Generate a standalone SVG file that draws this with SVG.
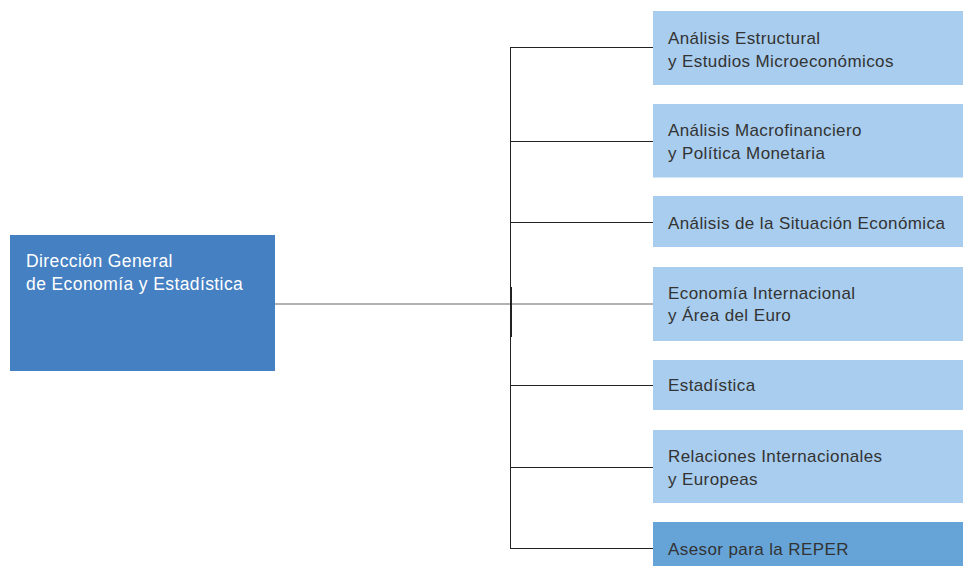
<svg xmlns="http://www.w3.org/2000/svg" width="963" height="566" viewBox="0 0 963 566">
<style>
.t{font-family:"Liberation Sans",Arial,sans-serif;font-size:17px;letter-spacing:0.4px;fill:#333333}
.w{fill:#ffffff;font-size:17.5px}
.sub{fill:#a8cdee}
.rep{fill:#66a4d8}
.main{fill:#4580c2}
.br{stroke:#222222;stroke-width:1;fill:none}
</style>
<rect width="963" height="566" fill="#ffffff"/>
<g id="connectors">
<line class="br" x1="510.5" y1="47.5" x2="510.5" y2="548.5"/>
<line x1="275" y1="304" x2="653" y2="304" stroke="#666666" stroke-width="1.2"/>
<line x1="511" y1="287" x2="511" y2="337" stroke="#222222" stroke-width="2"/>
<line class="br" x1="510" y1="47.5" x2="653" y2="47.5"/>
<line class="br" x1="510" y1="141.5" x2="653" y2="141.5"/>
<line class="br" x1="510" y1="222.5" x2="653" y2="222.5"/>
<line class="br" x1="510" y1="385.5" x2="653" y2="385.5"/>
<line class="br" x1="510" y1="467.5" x2="653" y2="467.5"/>
<line class="br" x1="510" y1="548.5" x2="653" y2="548.5"/>
</g>
<g id="dg">
<rect class="main" x="10" y="235" width="265" height="136"/>
<text class="t w" x="26" y="267">Dirección General</text>
<text class="t w" x="26" y="290">de Economía y Estadística</text>
</g>
<g id="n1">
<rect class="sub" x="653" y="11" width="310" height="74"/>
<text class="t" x="668" y="44">Análisis Estructural</text>
<text class="t" x="668" y="66.5">y Estudios Microeconómicos</text>
</g>
<g id="n2">
<rect class="sub" x="653" y="104" width="310" height="73.5"/>
<text class="t" x="668" y="136">Análisis Macrofinanciero</text>
<text class="t" x="668" y="159">y Política Monetaria</text>
</g>
<g id="n3">
<rect class="sub" x="653" y="196" width="310" height="51"/>
<text class="t" x="668" y="229">Análisis de la Situación Económica</text>
</g>
<g id="n4">
<rect class="sub" x="653" y="267" width="310" height="74"/>
<text class="t" x="668" y="299">Economía Internacional</text>
<text class="t" x="668" y="321">y Área del Euro</text>
</g>
<g id="n5">
<rect class="sub" x="653" y="360" width="310" height="50"/>
<text class="t" x="668" y="391">Estadística</text>
</g>
<g id="n6">
<rect class="sub" x="653" y="430" width="310" height="73"/>
<text class="t" x="668" y="462">Relaciones Internacionales</text>
<text class="t" x="668" y="484.5">y Europeas</text>
</g>
<g id="n7">
<rect class="rep" x="653" y="522" width="310" height="44"/>
<text class="t" x="668" y="555">Asesor para la REPER</text>
</g>
</svg>
